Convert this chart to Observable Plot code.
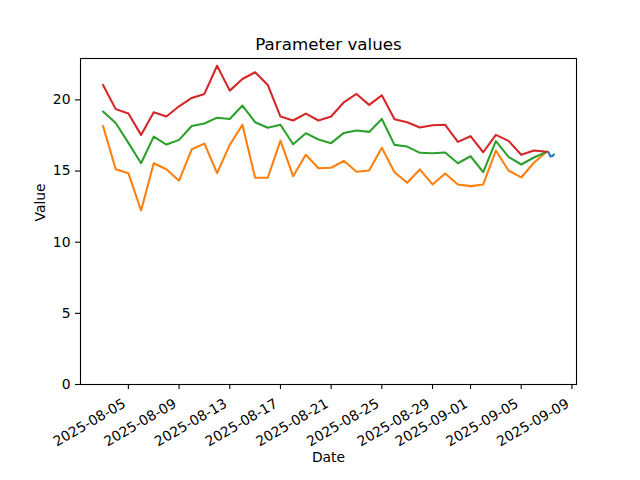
<!DOCTYPE html>
<html><head><meta charset="utf-8">
<script src="https://cdn.jsdelivr.net/npm/d3@7"></script>
<script src="https://cdn.jsdelivr.net/npm/@observablehq/plot@0.6"></script>
<style>body{margin:0;background:#fff}</style>
</head><body><div id="chart"></div>
<script>
const dates = ["2025-08-03","2025-08-04","2025-08-05","2025-08-06","2025-08-07","2025-08-08","2025-08-09","2025-08-10","2025-08-11","2025-08-12","2025-08-13","2025-08-14","2025-08-15","2025-08-16","2025-08-17","2025-08-18","2025-08-19","2025-08-20","2025-08-21","2025-08-22","2025-08-23","2025-08-24","2025-08-25","2025-08-26","2025-08-27","2025-08-28","2025-08-29","2025-08-30","2025-08-31","2025-09-01","2025-09-02","2025-09-03","2025-09-04","2025-09-05","2025-09-06","2025-09-07"];
const redValues = [21.05,19.35,19.04,17.54,19.13,18.83,19.55,20.14,20.42,22.4,20.65,21.47,21.94,21.05,18.83,18.55,19.04,18.55,18.83,19.83,20.42,19.65,20.32,18.64,18.43,18.06,18.22,18.25,17.05,17.45,16.32,17.54,17.12,16.14,16.44,16.35];
const greenValues = [19.18,18.38,16.98,15.55,17.42,16.86,17.19,18.17,18.34,18.75,18.66,19.6,18.43,18.04,18.25,16.88,17.66,17.22,16.96,17.68,17.85,17.75,18.66,16.84,16.72,16.28,16.25,16.3,15.55,16.04,14.92,17.1,16.0,15.46,15.95,16.35];
const orangeValues = [18.17,15.13,14.85,12.23,15.55,15.13,14.32,16.53,16.93,14.85,16.84,18.25,14.53,14.53,17.14,14.64,16.14,15.2,15.23,15.72,14.95,15.04,16.63,14.92,14.18,15.11,14.06,14.83,14.06,13.94,14.06,16.44,15.04,14.55,15.58,16.35];
const blueTimes = ["2025-09-07T00:00","2025-09-07T03:30","2025-09-07T07:30","2025-09-07T11:00","2025-09-07T14:00"];
const blueValues = [16.35,16.33,16.02,16.05,16.16];
const xTicks = ["2025-08-05","2025-08-09","2025-08-13","2025-08-17","2025-08-21","2025-08-25","2025-08-29","2025-09-01","2025-09-05","2025-09-09"];
const yTicks = [0,5,10,15,20];

const parse = s => new Date(s.length === 10 ? s + "T00:00:00Z" : s + ":00Z");
const series = (name, ds, vs) => ds.map((d, i) => ({series: name, date: parse(d), value: vs[i]}));
const blue = series("blue", blueTimes, blueValues);
const orange = series("orange", dates, orangeValues);
const green = series("green", dates, greenValues);
const red = series("red", dates, redValues);
const all = [...blue, ...orange, ...green, ...red];
const [t0, t1] = d3.extent(all, d => d.date);
const pad = (t1 - t0) * 0.05;
const [v0, v1] = d3.extent(all, d => d.value);
const yTop = v1 + (v1 - v0) * 0.05;
const fmt = d3.utcFormat("%Y-%m-%d");
const lw = 2.08;

const chart = Plot.plot({
  width: 640, height: 480,
  marginLeft: 80, marginRight: 64, marginTop: 58, marginBottom: 96,
  style: {fontFamily: "DejaVu Sans", fontSize: "13.9px", background: "#fff", color: "#000"},
  x: {type: "utc", domain: [new Date(+t0 - pad), new Date(+t1 + pad)]},
  y: {domain: [0, yTop]},
  marks: [
    Plot.lineY(blue, {x: "date", y: "value", stroke: "#1f77b4", strokeWidth: lw}),
    Plot.lineY(orange, {x: "date", y: "value", stroke: "#ff7f0e", strokeWidth: lw}),
    Plot.lineY(green, {x: "date", y: "value", stroke: "#2ca02c", strokeWidth: lw}),
    Plot.lineY(red, {x: "date", y: "value", stroke: "#d62728", strokeWidth: lw}),
    Plot.frame({stroke: "#000", strokeWidth: 1.1}),
    Plot.axisX(xTicks.map(parse), {tickSize: 5, fill: "none", label: null, strokeWidth: 1.1}),
    Plot.axisX(xTicks.map(parse), {tickSize: 0, tickPadding: 18, dx: -4, tickRotate: -30, tickFormat: fmt, label: null}),
    Plot.axisY(yTicks, {tickSize: 5, tickPadding: 5, label: null, strokeWidth: 1.1}),
    Plot.text(["Parameter values"], {frameAnchor: "top", dy: -20, fontSize: 16.7}),
    Plot.text(["Date"], {frameAnchor: "bottom", dy: 77}),
    Plot.text(["Value"], {frameAnchor: "left", dx: -40, rotate: -90})
  ]
});
document.getElementById("chart").append(chart);
</script>
</body></html>
